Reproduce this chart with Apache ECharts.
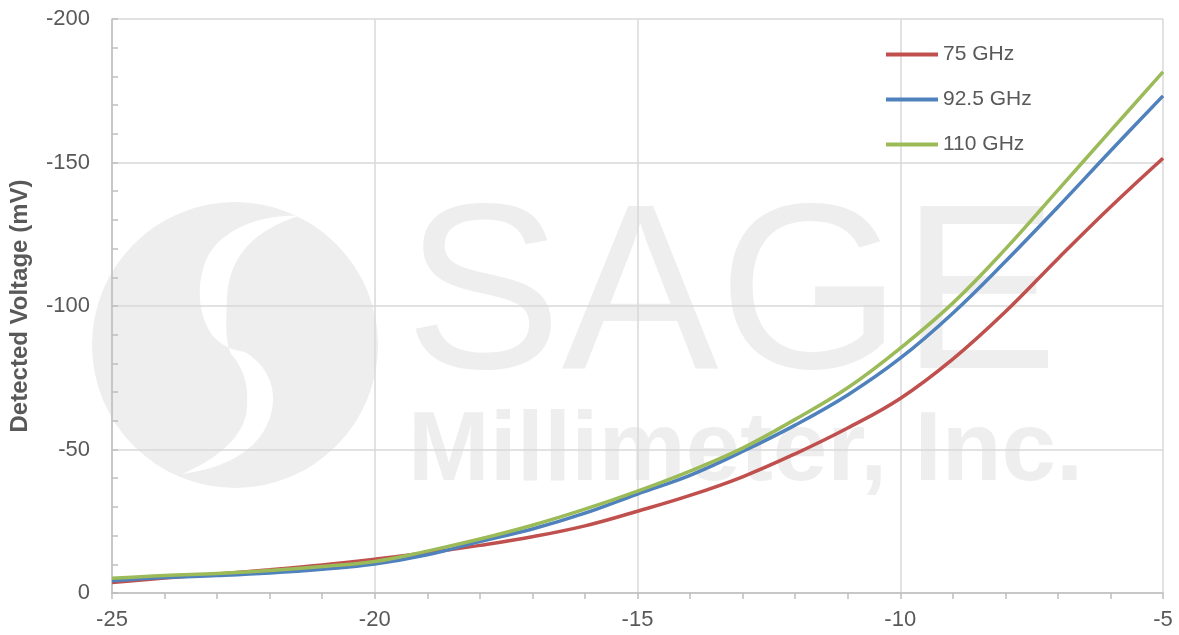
<!DOCTYPE html>
<html>
<head>
<meta charset="utf-8">
<script src="https://cdn.jsdelivr.net/npm/echarts@6/dist/echarts.min.js"></script>
<style>
  html, body { margin: 0; padding: 0; background: #fff; }
  #chart { width: 1179px; height: 635px; }
</style>
</head>
<body>
<div id="chart"></div>
<script>
// input power (dBm) on the x axis
const powerIn = [-25, -24, -23, -22, -21, -20, -19, -18, -17, -16, -15, -14, -13, -12, -11, -10, -9, -8, -7, -6, -5];
// detected voltage (mV)
const v75 = [-3.7, -5.2, -6.6, -8.1, -9.8, -11.8, -14.0, -16.6, -19.6, -23.4, -28.5, -34.0, -40.5, -48.5, -57.5, -67.8, -81.5, -98.0, -116.5, -134.5, -151.5];
const v92 = [-4.3, -5.4, -6.1, -7.0, -8.3, -10.1, -13.3, -17.9, -22.3, -27.8, -34.5, -41.0, -49.3, -58.5, -69.0, -81.8, -97.5, -115.5, -134.5, -154.0, -173.2];
const v110 = [-5.1, -6.1, -6.8, -7.8, -9.2, -11.0, -14.6, -18.8, -23.6, -29.2, -35.5, -42.5, -50.5, -60.5, -71.5, -85.3, -101.0, -119.8, -140.4, -161.0, -181.6];
const seriesNames = ['75 GHz', '92.5 GHz', '110 GHz'];
const xTicks = { min: -25, max: -5, step: 5 };
const yTicks = { min: -200, max: 0, step: 50 };

const colors = ['#C0504D', '#4F81BD', '#9BBB59'];
const textColor = '#595959';
const wm = '#eeeeee';

const pairs = (ys) => powerIn.map((x, i) => [x, ys[i]]);

// white S stroke of the logo
const sBand = 'M 298 216 C 265 214 220 228 206 260 C 196 285 198 315 212 335 C 220 345 232 350 245 352 ' +
  'C 262 362 274 380 273 400 C 272 430 250 465 182 474 C 215 460 240 440 246 415 ' +
  'C 250 390 245 370 232 355 C 225 345 226 320 227 300 C 228 260 250 232 298 216 Z';
echarts.graphic.registerShape('sband', echarts.graphic.extendPath(sBand, {}));

const chart = echarts.init(document.getElementById('chart'));

const option = {
  animation: false,
  color: colors,
  grid: { left: 109, right: 16, top: 19, bottom: 42 },
  // faint company watermark behind the plot
  graphic: [
    { type: 'circle', z: -10, silent: true, shape: { cx: 235, cy: 345, r: 143 }, style: { fill: wm } },
    { type: 'sband', z: -9, silent: true, style: { fill: '#ffffff' } },
    {
      type: 'text', z: -9, silent: true, x: 405, y: 303,
      style: { text: 'SAGE', font: '235px "Liberation Sans"', fill: wm, align: 'left', verticalAlign: 'middle' }
    },
    {
      type: 'text', z: -9, silent: true, x: 408, y: 453,
      style: { text: 'Millimeter, Inc.', font: 'bold 98px "Liberation Sans"', fill: wm, align: 'left', verticalAlign: 'middle' }
    }
  ],
  legend: {
    data: seriesNames,
    orient: 'vertical',
    left: 886,
    top: 44,
    padding: 0,
    itemWidth: 52,
    itemHeight: 4,
    itemGap: 24,
    icon: 'rect',
    textStyle: { color: textColor, fontSize: 21, fontFamily: 'Liberation Sans' }
  },
  xAxis: {
    type: 'value',
    min: xTicks.min,
    max: xTicks.max,
    interval: xTicks.step,
    axisLine: { lineStyle: { color: '#bfbfbf', width: 1.5 } },
    axisTick: { show: true, inside: false, length: 6, lineStyle: { color: '#bfbfbf', width: 1.5 } },
    minorTick: { show: true, splitNumber: 5, length: 6, lineStyle: { color: '#bfbfbf', width: 1.5 } },
    axisLabel: { color: textColor, fontSize: 22, fontFamily: 'Liberation Sans', margin: 16 },
    splitLine: { show: true, lineStyle: { color: '#d9d9d9', width: 1.5 } }
  },
  yAxis: {
    type: 'value',
    inverse: true,
    min: yTicks.min,
    max: yTicks.max,
    interval: yTicks.step,
    name: 'Detected Voltage (mV)',
    nameLocation: 'middle',
    nameGap: 80,
    nameRotate: 90,
    nameTextStyle: { color: textColor, fontSize: 24, fontWeight: 'bold', fontFamily: 'Liberation Sans' },
    axisLine: { show: true, lineStyle: { color: '#bfbfbf', width: 1.5 } },
    axisTick: { show: true, inside: true, length: 6, lineStyle: { color: '#bfbfbf', width: 1.5 } },
    minorTick: { show: true, splitNumber: 5, length: 6, lineStyle: { color: '#bfbfbf', width: 1.5 } },
    axisLabel: { color: textColor, fontSize: 22, fontFamily: 'Liberation Sans', margin: 22 },
    splitLine: { show: true, lineStyle: { color: '#d9d9d9', width: 1.5 } }
  },
  series: [
    { name: seriesNames[0], type: 'line', data: pairs(v75), smooth: 0.4, showSymbol: false, lineStyle: { width: 3.5 } },
    { name: seriesNames[1], type: 'line', data: pairs(v92), smooth: 0.4, showSymbol: false, lineStyle: { width: 3.5 } },
    { name: seriesNames[2], type: 'line', data: pairs(v110), smooth: 0.4, showSymbol: false, lineStyle: { width: 3.5 } }
  ]
};

chart.setOption(option);
</script>
</body>
</html>
